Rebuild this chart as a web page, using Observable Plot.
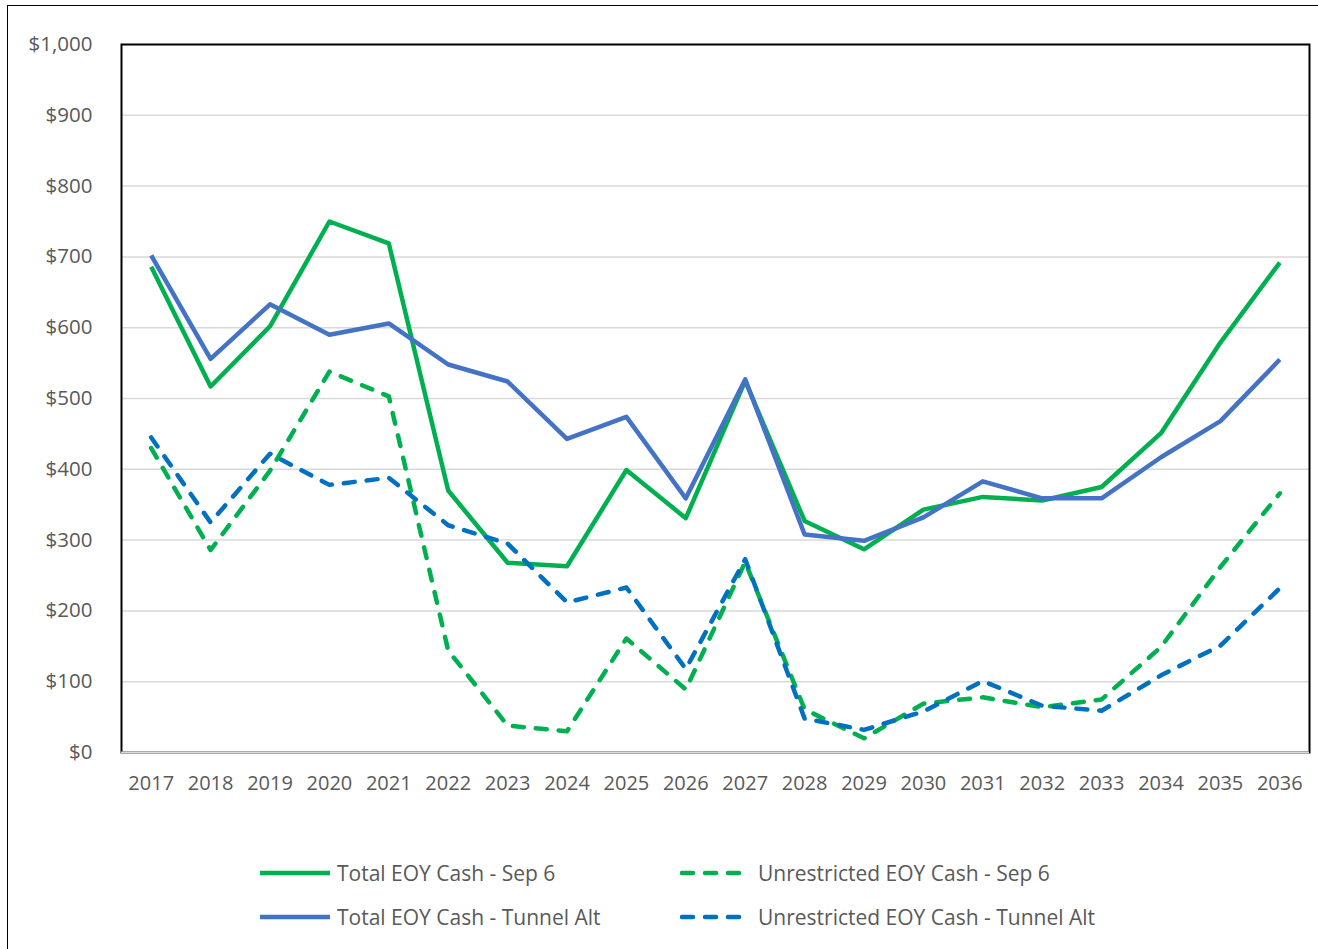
<!DOCTYPE html>
<html>
<head>
<meta charset="utf-8">
<script src="https://cdn.jsdelivr.net/npm/d3@7"></script>
<script src="https://cdn.jsdelivr.net/npm/@observablehq/plot@0.6"></script>
<style>
  html, body { margin: 0; padding: 0; background: #fff; overflow: hidden; }
  body { width: 1318px; height: 949px; position: relative; font-family: "Open Sans", sans-serif; }
  #outer { position: absolute; left: 7px; top: 5px; width: 1400px; height: 1000px; border-left: 1.5px solid #000; border-top: 1.5px solid #000; pointer-events: none; }
  #chart { position: absolute; left: 0; top: 0; }
  .leg { position: absolute; display: flex; align-items: center; height: 30px; transform: translateY(-50%); color: #595959; font-size: 21px; white-space: nowrap; }
  .leg svg { display: block; }
</style>
</head>
<body>
<div id="chart"></div>
<div id="outer"></div>
<div id="legend"></div>
<script>
const years = ["2017","2018","2019","2020","2021","2022","2023","2024","2025","2026","2027","2028","2029","2030","2031","2032","2033","2034","2035","2036"];
const yTicks = [0,100,200,300,400,500,600,700,800,900,1000];

const totalSep6          = [686, 517, 602, 750, 719, 370, 268, 263, 399, 331, 525, 327, 287, 343, 361, 356, 375, 451, 579, 692];
const unrestrictedSep6   = [430, 286, 398, 538, 503, 144,  38,  30, 161,  89, 269,  61,  20,  69,  78,  64,  75, 149, 262, 366];
const totalTunnel        = [702, 556, 633, 590, 606, 548, 524, 443, 474, 359, 527, 308, 299, 332, 383, 359, 359, 417, 468, 555];
const unrestrictedTunnel = [445, 325, 422, 378, 388, 321, 295, 212, 233, 118, 273,  48,  32,  58, 101,  66,  59, 109, 151, 232];

const seriesNames = ["Total EOY Cash - Sep 6", "Unrestricted EOY Cash - Sep 6", "Total EOY Cash - Tunnel Alt", "Unrestricted EOY Cash - Tunnel Alt"];
const seriesValues = [totalSep6, unrestrictedSep6, totalTunnel, unrestrictedTunnel];
const seriesColors = ["#00B050", "#00B050", "#4472C4", "#0070C0"];
const seriesDashed = [false, true, false, true];

const DASH = "11,12";
const table = (vals) => years.map((y, i) => ({year: y, value: vals[i]}));

const lineMarks = seriesValues.map((vals, k) => Plot.line(table(vals), {
  x: "year", y: "value",
  stroke: seriesColors[k], strokeWidth: 4.5,
  strokeDasharray: seriesDashed[k] ? DASH : null,
  strokeLinecap: seriesDashed[k] ? "round" : "butt",
  strokeLinejoin: "round"
}));

const chart = Plot.plot({
  width: 1318, height: 800,
  marginLeft: 121, marginRight: 9, marginTop: 44, marginBottom: 48,
  style: {fontFamily: "Open Sans", fontSize: "20px", color: "#595959", background: "transparent", overflow: "visible"},
  x: {type: "point", domain: years, padding: 0.5, round: false, label: null},
  y: {domain: [0, 1000], label: null},
  marks: [
    Plot.gridY(yTicks, {stroke: "#d9d9d9", strokeOpacity: 1, strokeWidth: 1.5}),
    Plot.frame({stroke: "#000", strokeWidth: 2}),
    Plot.ruleY([0], {stroke: "#d9d9d9", strokeWidth: 2}),
    ...lineMarks,
    Plot.axisY(yTicks, {tickSize: 0, tickPadding: 29, tickFormat: d => "$" + d3.format(",")(d), fill: "#595959", fontSize: 20.5}),
    Plot.axisX({tickSize: 0, tickPadding: 23, fill: "#595959", fontSize: 20})
  ]
});
document.getElementById("chart").appendChild(chart);

// Legend
const legendPos = [
  {left: 260, top: 873},
  {left: 680, top: 873},
  {left: 260, top: 917},
  {left: 680, top: 917}
];
const legend = document.getElementById("legend");
seriesNames.forEach((name, k) => {
  const div = document.createElement("div");
  div.className = "leg";
  div.style.left = legendPos[k].left + "px";
  div.style.top = legendPos[k].top + "px";
  const w = seriesDashed[k] ? 66 : 70;
  const gap = seriesDashed[k] ? 12 : 7;
  const ns = "http://www.w3.org/2000/svg";
  const svg = document.createElementNS(ns, "svg");
  svg.setAttribute("width", w);
  svg.setAttribute("height", 10);
  svg.style.marginRight = gap + "px";
  const ln = document.createElementNS(ns, "line");
  ln.setAttribute("x1", seriesDashed[k] ? 2 : 0);
  ln.setAttribute("x2", seriesDashed[k] ? w - 2 : w);
  ln.setAttribute("y1", 5); ln.setAttribute("y2", 5);
  ln.setAttribute("stroke", seriesColors[k]);
  ln.setAttribute("stroke-width", 4.5);
  if (seriesDashed[k]) { ln.setAttribute("stroke-dasharray", DASH); ln.setAttribute("stroke-linecap", "round"); }
  svg.appendChild(ln);
  div.appendChild(svg);
  const span = document.createElement("span");
  span.textContent = name;
  div.appendChild(span);
  legend.appendChild(div);
});
</script>
</body>
</html>
